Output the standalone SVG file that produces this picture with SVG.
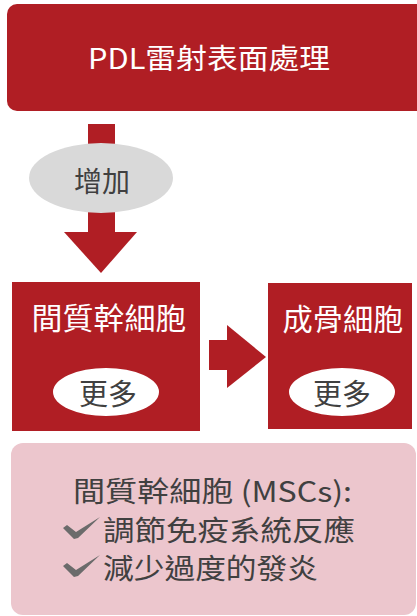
<svg xmlns="http://www.w3.org/2000/svg" width="417" height="616" viewBox="0 0 417 616">
<style>
.red{fill:#b01e24}
.wt{fill:#ffffff;font-family:"Noto Sans CJK TC","Noto Sans CJK SC",sans-serif}
.gt{fill:#404040;font-family:"Noto Sans CJK TC","Noto Sans CJK SC",sans-serif}
.ck{fill:#6b6b6b}
</style>
<rect width="417" height="616" fill="#ffffff"/>
<g id="connectors">
  <g id="arrow-down">
    <rect class="red" x="88" y="124" width="27" height="109"/>
    <polygon class="red" points="64,232 137,232 101,273"/>
  </g>
  <g id="arrow-right">
    <rect class="red" x="209" y="340" width="19" height="30"/>
    <polygon class="red" points="227,325 227,388 266,357"/>
  </g>
</g>
<g id="node-pdl">
  <rect class="red" x="7" y="4" width="420" height="107" rx="10"/>
  <text class="wt" x="209" y="69" font-size="28" text-anchor="middle" textLength="242" lengthAdjust="spacingAndGlyphs">PDL雷射表面處理</text>
</g>
<g id="label-increase">
  <ellipse cx="101" cy="178" rx="72" ry="35" fill="#d9d9d9"/>
  <text class="gt" x="102" y="192" font-size="28" text-anchor="middle">增加</text>
</g>
<g id="node-msc">
  <rect class="red" x="12" y="282" width="188" height="149"/>
  <text class="wt" x="109" y="329" font-size="30" text-anchor="middle" textLength="155" lengthAdjust="spacingAndGlyphs">間質幹細胞</text>
  <ellipse cx="106" cy="392" rx="53" ry="24" fill="#ffffff"/>
  <text class="gt" x="108" y="405" font-size="29" text-anchor="middle">更多</text>
</g>
<g id="node-osteo">
  <rect class="red" x="268" y="283" width="144" height="146"/>
  <text class="wt" x="343" y="330" font-size="30" text-anchor="middle" textLength="121" lengthAdjust="spacingAndGlyphs">成骨細胞</text>
  <ellipse cx="342" cy="392" rx="53" ry="24" fill="#ffffff"/>
  <text class="gt" x="342" y="405" font-size="29" text-anchor="middle">更多</text>
</g>
<g id="node-info">
  <rect x="11" y="443" width="405" height="172" rx="12" fill="#ecc6cd"/>
  <text class="gt" x="73" y="502" font-size="28" textLength="279" lengthAdjust="spacingAndGlyphs">間質幹細胞 (MSCs):</text>
  <polygon class="ck" points="63,528 67,525 76,532 100,517 78,538 74,539"/>
  <text class="gt" x="103" y="541" font-size="28" textLength="252" lengthAdjust="spacingAndGlyphs">調節免疫系統反應</text>
  <polygon class="ck" points="63,566 67,563 76,570 100,555 78,576 74,577"/>
  <text class="gt" x="103" y="579" font-size="28" textLength="215" lengthAdjust="spacingAndGlyphs">減少過度的發炎</text>
</g>
</svg>
